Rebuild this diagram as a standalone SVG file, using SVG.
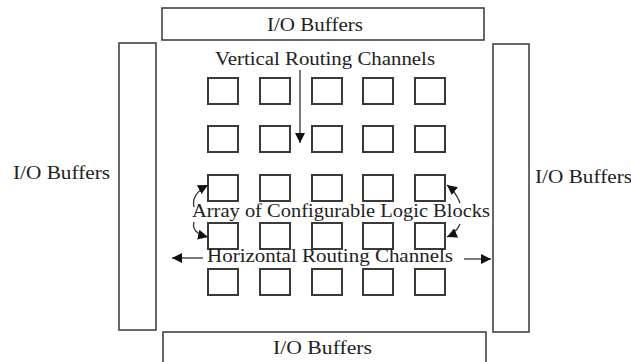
<svg xmlns="http://www.w3.org/2000/svg" width="631" height="362" viewBox="0 0 631 362">
<style>
.buf{fill:#fff;stroke:#444;stroke-width:1.6}
.blk{fill:#fff;stroke:#3a3a3a;stroke-width:2}
.t{font-family:"Liberation Serif","Times New Roman",serif;font-size:18px;fill:#222}
.c{fill:none;stroke:#333;stroke-width:1.3}
</style>
<defs>
<marker id="ah" markerUnits="userSpaceOnUse" markerWidth="12" markerHeight="10" refX="10" refY="5" orient="auto">
<path d="M0,0 L10,5 L0,10 Z" fill="#111"/>
</marker>
</defs>
<rect width="631" height="362" fill="#fff"/>
<g id="io-top"><rect class="buf" x="162" y="8" width="322" height="32"/><text class="t" x="267" y="31" textLength="96" lengthAdjust="spacingAndGlyphs">I/O Buffers</text></g>
<g id="io-bottom"><rect class="buf" x="163" y="332" width="323" height="40"/><text class="t" x="273" y="354" textLength="99" lengthAdjust="spacingAndGlyphs">I/O Buffers</text></g>
<g id="io-left"><rect class="buf" x="119" y="43" width="37" height="287"/><text class="t" x="13" y="179" textLength="97" lengthAdjust="spacingAndGlyphs">I/O Buffers</text></g>
<g id="io-right"><rect class="buf" x="493" y="44" width="36" height="288"/><text class="t" x="535" y="183" textLength="97" lengthAdjust="spacingAndGlyphs">I/O Buffers</text></g>
<g id="clb-array">
<rect class="blk" x="208" y="78" width="30" height="26"/><rect class="blk" x="260" y="78" width="30" height="26"/><rect class="blk" x="312" y="78" width="30" height="26"/><rect class="blk" x="363" y="78" width="30" height="26"/><rect class="blk" x="415" y="78" width="30" height="26"/>
<rect class="blk" x="208" y="126" width="30" height="26"/><rect class="blk" x="260" y="126" width="30" height="26"/><rect class="blk" x="312" y="126" width="30" height="26"/><rect class="blk" x="363" y="126" width="30" height="26"/><rect class="blk" x="415" y="126" width="30" height="26"/>
<rect class="blk" x="208" y="175" width="30" height="26"/><rect class="blk" x="260" y="175" width="30" height="26"/><rect class="blk" x="312" y="175" width="30" height="26"/><rect class="blk" x="363" y="175" width="30" height="26"/><rect class="blk" x="415" y="175" width="30" height="26"/>
<rect class="blk" x="208" y="223" width="30" height="26"/><rect class="blk" x="260" y="223" width="30" height="26"/><rect class="blk" x="312" y="223" width="30" height="26"/><rect class="blk" x="363" y="223" width="30" height="26"/><rect class="blk" x="415" y="223" width="30" height="26"/>
<rect class="blk" x="208" y="269" width="30" height="26"/><rect class="blk" x="260" y="269" width="30" height="26"/><rect class="blk" x="312" y="269" width="30" height="26"/><rect class="blk" x="363" y="269" width="30" height="26"/><rect class="blk" x="415" y="269" width="30" height="26"/>
</g>
<g id="labels">
<text class="t" x="215" y="65" textLength="220" lengthAdjust="spacingAndGlyphs">Vertical Routing Channels</text>
<text class="t" x="192" y="217" textLength="298" lengthAdjust="spacingAndGlyphs">Array of Configurable Logic Blocks</text>
<text class="t" x="207" y="262" textLength="246" lengthAdjust="spacingAndGlyphs">Horizontal Routing Channels</text>
</g>
<g id="connectors">
<path class="c" d="M300,70 L300,143" marker-end="url(#ah)"/>
<path class="c" d="M194,207 Q191,194 208,185" marker-end="url(#ah)"/>
<path class="c" d="M194,222 Q191,233 208,237" marker-end="url(#ah)"/>
<path class="c" d="M460,203 Q456,192 447,185" marker-end="url(#ah)"/>
<path class="c" d="M460,224 Q456,233 447,237" marker-end="url(#ah)"/>
<path class="c" d="M203,258 L172,258" marker-end="url(#ah)"/>
<path class="c" d="M464,259 L491,259" marker-end="url(#ah)"/>
</g>
</svg>
